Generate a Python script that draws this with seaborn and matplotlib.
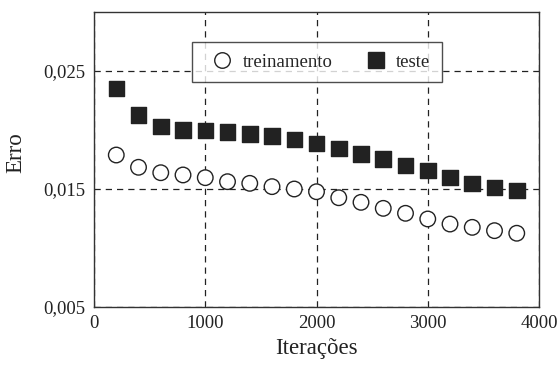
import matplotlib
matplotlib.use("Agg")
import matplotlib.pyplot as plt
import seaborn as sns
import pandas as pd

iteracoes = [200, 400, 600, 800, 1000, 1200, 1400, 1600, 1800, 2000,
             2200, 2400, 2600, 2800, 3000, 3200, 3400, 3600, 3800]
treinamento = [0.01788, 0.01684, 0.01638, 0.01619, 0.01596, 0.01562, 0.01548,
               0.01520, 0.01500, 0.01477, 0.01426, 0.01387, 0.01336, 0.01294,
               0.01246, 0.01203, 0.01175, 0.01147, 0.01125]
teste = [0.02353, 0.02127, 0.02028, 0.02000, 0.01994, 0.01983, 0.01966,
         0.01949, 0.01921, 0.01887, 0.01845, 0.01797, 0.01754, 0.01701,
         0.01655, 0.01596, 0.01545, 0.01514, 0.01486]
xticks = [0, 1000, 2000, 3000, 4000]
yticks = [0.005, 0.015, 0.025]
ytick_labels = ["0,005", "0,015", "0,025"]

sns.set_style("white")
plt.rcParams['font.family'] = ['Liberation Serif', 'DejaVu Serif']

df = pd.DataFrame({
    "Iterações": iteracoes * 2,
    "Erro": treinamento + teste,
    "serie": ["treinamento"] * len(iteracoes) + ["teste"] * len(iteracoes),
})

fig = plt.figure(figsize=(5.57, 3.66), dpi=100)
ax = fig.add_axes([0.1688, 0.1612, 0.7989, 0.806])

sns.scatterplot(data=df, x="Iterações", y="Erro", hue="serie", style="serie",
                markers={"treinamento": "o", "teste": "s"},
                palette={"treinamento": "white", "teste": "#222222"},
                s=125, edgecolor="#222222", linewidth=1.0, ax=ax, zorder=3)

for coll in ax.collections:
    coll.set_edgecolor("#222222")

ax.set_xlim(0, 4000)
ax.set_ylim(0.005, 0.030)
ax.set_xticks(xticks)
ax.set_xticklabels([str(t) for t in xticks])
ax.set_yticks(yticks)
ax.set_yticklabels(ytick_labels)
ax.tick_params(axis='both', labelsize=13.5, length=0, pad=6, colors="#222222")
ax.grid(True, linestyle=(0, (5, 4)), color="#222222", linewidth=0.9)
for sp in ax.spines.values():
    sp.set_color("#333333")
    sp.set_linewidth(1.0)

ax.set_xlabel("Iterações", fontsize=16.5, color="#222222", labelpad=4)
ax.set_ylabel("Erro", fontsize=16.5, color="#222222")
ax.yaxis.set_label_coords(-0.152, 0.522)

leg = ax.legend(loc="upper center", bbox_to_anchor=(0.501, 0.897), ncol=2,
                fontsize=13.5, frameon=True, fancybox=False, shadow=False,
                borderpad=0.6, columnspacing=1.3, handletextpad=0.1,
                handlelength=2.0, markerscale=1.0, borderaxespad=0)
leg.get_frame().set_edgecolor("#222222")
leg.get_frame().set_linewidth(1.0)
for h in leg.legend_handles:
    if hasattr(h, "set_markeredgecolor"):
        h.set_markeredgecolor("#222222")
    elif hasattr(h, "set_edgecolor"):
        h.set_edgecolor("#222222")

fig.savefig("out.png", dpi=100)
